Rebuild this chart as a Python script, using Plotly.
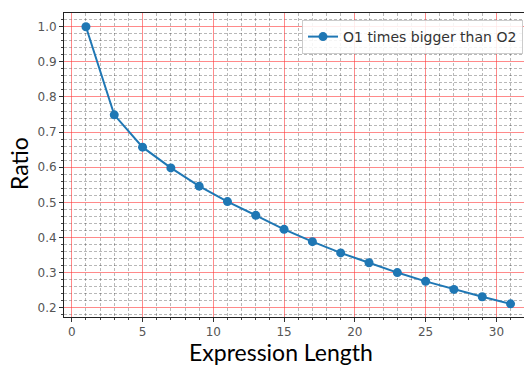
import plotly.graph_objects as go

expr_length = [1, 3, 5, 7, 9, 11, 13, 15, 17, 19, 21, 23, 25, 27, 29, 31]
ratio = [1.0, 0.749, 0.657, 0.598, 0.546, 0.502, 0.463, 0.423, 0.388, 0.356,
         0.328, 0.300, 0.275, 0.252, 0.231, 0.211]
series_name = "O1 times bigger than O2"
x_title = "Expression Length"
y_title = "Ratio"

W, H = 524, 365
L, T, B, R = 64, 13, 48, 0

fig = go.Figure()
fig.add_trace(go.Scatter(
    x=expr_length, y=ratio, mode="lines+markers", name=series_name,
    line=dict(color="#1f77b4", width=2),
    marker=dict(color="#1f77b4", size=9),
))

tickfont = dict(family="DejaVu Sans", size=12, color="#555555")
minor_grid = dict(showgrid=True, gridcolor="rgba(0,0,0,0.28)", griddash="3px,2px",
                  ticks="outside", ticklen=2, tickcolor="#444")
fig.update_xaxes(
    range=[-0.55, 31.95], tickmode="linear", tick0=0, dtick=5,
    showgrid=True, gridcolor="rgba(255,60,60,0.6)", gridwidth=1,
    minor=dict(dtick=1, **minor_grid),
    ticks="outside", ticklen=4, tickcolor="#333",
    showline=True, linecolor="#222", linewidth=1, mirror=True,
    zeroline=False, tickfont=tickfont,
)
fig.update_yaxes(
    range=[0.1735, 1.039], tickmode="linear", tick0=0.2, dtick=0.1,
    tickformat=".1f",
    showgrid=True, gridcolor="rgba(255,60,60,0.6)", gridwidth=1,
    minor=dict(dtick=0.02, **minor_grid),
    ticks="outside", ticklen=4, tickcolor="#333",
    showline=True, linecolor="#222", linewidth=1,
    zeroline=False, tickfont=tickfont,
)

PW, PH = W - L - R, H - T - B
fig.add_annotation(text=x_title, xref="paper", yref="paper",
                   x=(281 - L) / PW, y=-(352 - (H - B)) / PH,
                   xanchor="center", yanchor="middle", showarrow=False,
                   font=dict(family="Lato", size=23, color="black"))
fig.add_annotation(text=y_title, xref="paper", yref="paper",
                   x=-(L - 19) / PW, y=1 - (164 - T) / PH,
                   xanchor="center", yanchor="middle", showarrow=False, textangle=-90,
                   font=dict(family="Lato", size=23, color="black"))

fig.update_layout(
    width=W, height=H, margin=dict(l=L, r=R, t=T, b=B),
    paper_bgcolor="white", plot_bgcolor="white",
    showlegend=True,
    legend=dict(x=(302 - L) / PW, y=1 - (20 - T) / PH,
                xanchor="left", yanchor="top",
                bgcolor="rgba(255,255,255,0.85)", bordercolor="#cccccc", borderwidth=1,
                font=dict(family="DejaVu Sans", size=14, color="#333")),
)

fig.write_html("out.html")
